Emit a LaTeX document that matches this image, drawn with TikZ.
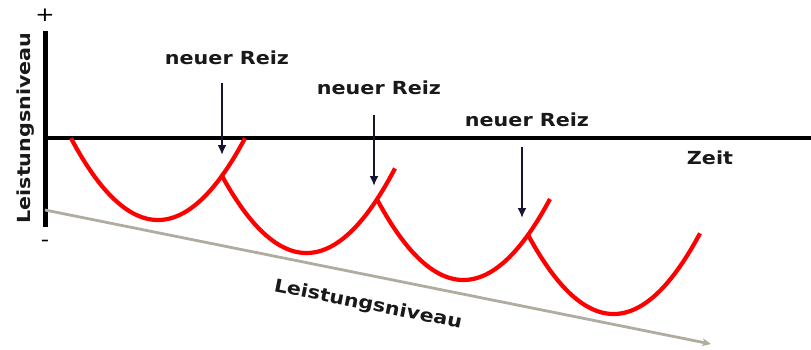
\documentclass[tikz,border=0pt]{standalone}
\usepackage{fontspec}
\usepackage{xcolor}
\usepackage{tikz}
\usetikzlibrary{arrows.meta}

\newfontfamily\lblfont[FakeStretch=1.15]{DejaVu Sans}
\definecolor{pfeilblau}{RGB}{20,20,45}
\definecolor{niveaugrau}{RGB}{176,172,160}

\begin{document}
\begin{tikzpicture}[x=1pt, y=-1pt,
    txt/.style={font=\lblfont\bfseries\fontsize{18}{20}\selectfont, text=black!90, inner sep=0pt},
    pm/.style={font=\lblfont\fontsize{20}{22}\selectfont, inner sep=0pt},
    achse/.style={line width=5pt},
    kurve/.style={red, line width=4.2pt, line join=round, samples=60},
    reiz/.style={pfeilblau, line width=2.8pt, -{Latex[length=10pt, width=9pt]}},
    niveau/.style={niveaugrau, line width=2.8pt, -{Stealth[length=9pt, width=8pt]}}]
    \useasboundingbox (0,0) rectangle (811,349);

    % Axes
    \coordinate (top) at (45,31);
    \coordinate (bottom) at (45,227);
    \coordinate (origin) at (45,138);
    \coordinate (right) at (811,138);
    \draw[achse] (top) -- (bottom);
    \draw[line width=4.2pt] (origin) -- (right);

    % Nodes
    \node[pm] (plus) at (45,15) {+};
    \node[pm] (minus) at (45,243) {-};
    \node[txt, rotate=90] (yaxis) at (26,128) {Leistungsniveau};
    \node[txt] (zeit) at (710,158) {Zeit};
    \node[txt] (reiz1) at (227,58) {neuer Reiz};
    \node[txt] (reiz2) at (379,88) {neuer Reiz};
    \node[txt] (reiz3) at (527,120) {neuer Reiz};
    \node[txt, rotate=-11.3] (trend) at (368,305) {Leistungsniveau};

    % Trend line
    \coordinate (n0) at (45,210);
    \coordinate (n1) at (711,344);
    \draw[niveau] (n0) -- (n1);

    % Curves
    \draw[kurve] plot[domain=71:245] (\x, {220-0.0108*(\x-158)^2});
    \draw[kurve] plot[domain=222:395] (\x, {253-0.0108*(\x-306.5)^2});
    \draw[kurve] plot[domain=377:550] (\x, {280-0.0108*(\x-463.4)^2});
    \draw[kurve] plot[domain=528:700] (\x, {314-0.0108*(\x-613.6)^2});

    % Arrows
    \coordinate (a1) at (222,83);
    \coordinate (t1) at (222,155);
    \coordinate (a2) at (374,115);
    \coordinate (t2) at (374,186);
    \coordinate (a3) at (522,147);
    \coordinate (t3) at (522,218);
    \draw[reiz] (a1) -- (t1);
    \draw[reiz] (a2) -- (t2);
    \draw[reiz] (a3) -- (t3);
\end{tikzpicture}
\end{document}
